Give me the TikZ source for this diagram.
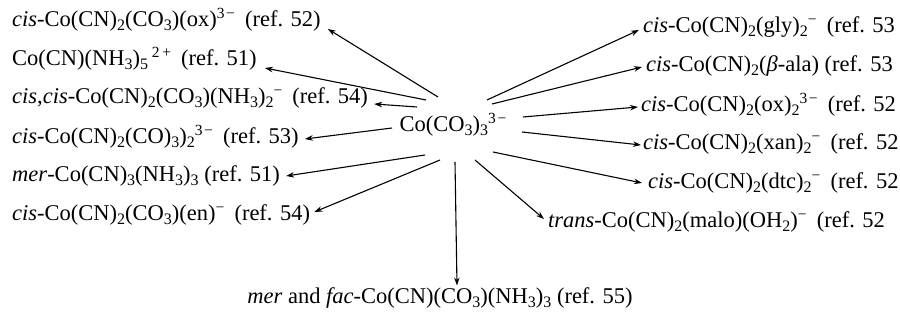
\documentclass[tikz,border=0pt]{standalone}
\usepackage{fontspec}
\setmainfont{Liberation Serif}
\usetikzlibrary{arrows.meta}
\newcommand\dn[1]{\raisebox{-0.35ex}{\fontsize{16}{16}\selectfont #1}}
\newcommand\up[1]{\raisebox{0.8ex}{\fontsize{15.5}{16}\selectfont #1}}
\newcommand\gap{\hspace{0.45em}}
\newcommand\mn{\kern0.1em−}
\begin{document}
\begin{tikzpicture}[x=1pt,y=1pt,
  lbl/.style={inner sep=0pt, font=\fontsize{22.5}{27}\selectfont},
  arr/.style={-{Stealth[length=8pt,width=5.5pt]}, line width=1.1pt}]
\useasboundingbox (0,0) rectangle (900,320);
% centre
\node[lbl] (C) at (453,195) {Co(CO\dn{3})\dn{3}\up{3\mn}};
% left column
\node[lbl,anchor=west] (L1) at (12,300) {\textit{cis}-Co(CN)\dn{2}(CO\dn{3})(ox)\up{3\mn}\gap(ref. 52)};
\node[lbl,anchor=west] (L2) at (12,261) {Co(CN)(NH\dn{3})\dn{5}\,\up{2\,+}\gap(ref. 51)};
\node[lbl,anchor=west] (L3) at (12,222) {\textit{cis},\textit{cis}-Co(CN)\dn{2}(CO\dn{3})(NH\dn{3})\dn{2}\up{−}\gap(ref. 54)};
\node[lbl,anchor=west] (L4) at (12,183) {\textit{cis}-Co(CN)\dn{2}(CO)\dn{3})\dn{2}\up{3\mn}\gap(ref. 53)};
\node[lbl,anchor=west] (L5) at (12,144) {\textit{mer}-Co(CN)\dn{3}(NH\dn{3})\dn{3} (ref. 51)};
\node[lbl,anchor=west] (L6) at (12,105) {\textit{cis}-Co(CN)\dn{2}(CO\dn{3})(en)\up{−}\gap(ref. 54)};
% bottom
\node[lbl] (B) at (440,22) {\textit{mer} and \textit{fac}-Co(CN)(CO\dn{3})(NH\dn{3})\dn{3} (ref. 55)};
% right column
\node[lbl,anchor=west] (R1) at (643,293) {\textit{cis}-Co(CN)\dn{2}(gly)\dn{2}\up{−}\gap(ref. 53};
\node[lbl,anchor=west] (R2) at (646,254) {\textit{cis}-Co(CN)\dn{2}(\textit{β}-ala) (ref. 53};
\node[lbl,anchor=west] (R3) at (641,215) {\textit{cis}-Co(CN)\dn{2}(ox)\dn{2}\up{3\mn}\gap(ref. 52};
\node[lbl,anchor=west] (R4) at (643,176) {\textit{cis}-Co(CN)\dn{2}(xan)\dn{2}\up{−}\gap(ref. 52};
\node[lbl,anchor=west] (R5) at (648,137) {\textit{cis}-Co(CN)\dn{2}(dtc)\dn{2}\up{−}\gap(ref. 52};
\node[lbl,anchor=west] (R6) at (548,98) {\textit{trans}-Co(CN)\dn{2}(malo)(OH\dn{2})\up{−}\gap(ref. 52};
% arrows
\draw[arr] ([shift={(-15,28)}]C.center) -- ([shift={(7,-9)}]L1.east);
\draw[arr] ([shift={(-27,25)}]C.center) -- ([shift={(8,-9)}]L2.east);
\draw[arr] ([shift={(-36,18)}]C.center) -- ([shift={(6,-6)}]L3.east);
\draw[arr] ([shift={(-61,-3)}]C.center) -- ([shift={(6,-2)}]L4.east);
\draw[arr] ([shift={(-28,-30)}]C.center) -- ([shift={(6,0)}]L5.east);
\draw[arr] ([shift={(-13,-35)}]C.center) -- ([shift={(4,3)}]L6.east);
\draw[arr] ([shift={(2,-37)}]C.center) -- ([shift={(17,2)}]B.north);
\draw[arr] ([shift={(34,25)}]C.center) -- ([shift={(-4,-3)}]R1.west);
\draw[arr] ([shift={(39,21)}]C.center) -- ([shift={(-4,-1)}]R2.west);
\draw[arr] ([shift={(70,8)}]C.center) -- ([shift={(-3,-2)}]R3.west);
\draw[arr] ([shift={(69,-7)}]C.center) -- ([shift={(-2,-1)}]R4.west);
\draw[arr] ([shift={(40,-27)}]C.center) -- ([shift={(-6,0)}]R5.west);
\draw[arr] ([shift={(22,-35)}]C.center) -- ([shift={(-4,3)}]R6.west);
\end{tikzpicture}
\end{document}
